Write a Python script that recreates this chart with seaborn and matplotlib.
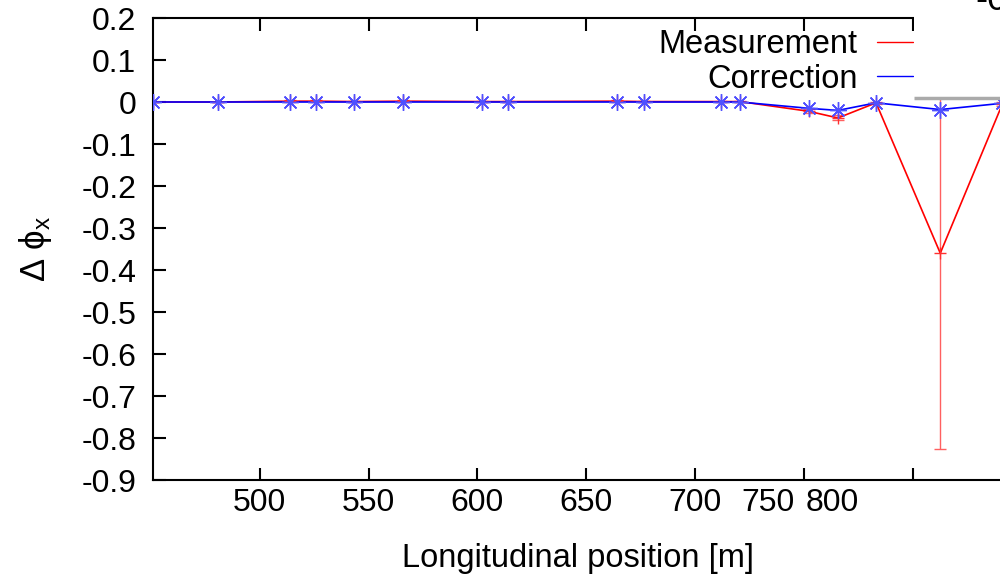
import numpy as np
import pandas as pd
import matplotlib
matplotlib.use("Agg")
import matplotlib.pyplot as plt
import matplotlib.transforms as mtransforms
from matplotlib.patches import Rectangle
from matplotlib.lines import Line2D
import seaborn as sns

# ---- data ----
position = [451, 481, 514, 526, 543.5, 566, 602, 614, 664, 676.5, 712, 720.5,
            752, 765.5, 783, 812.5, 841]
measurement = [0.0, 0.0, 0.002, 0.002, 0.001, 0.002, 0.001, 0.001, 0.002, 0.001,
               0.001, 0.001, -0.022, -0.038, -0.002, -0.36, -0.005]
measurement_err = [0.001, 0.001, 0.002, 0.002, 0.002, 0.002, 0.002, 0.002, 0.002,
                   0.002, 0.002, 0.002, 0.005, 0.006, 0.003, 0.466, 0.005]
correction = [0.0, 0.0, 0.0, 0.0, 0.0, 0.0, 0.0, 0.0, 0.0, 0.0, 0.0, 0.0,
              -0.015, -0.02, -0.002, -0.018, -0.003]
xticks = [500, 550, 600, 650, 700, 750, 800]
yticks = [0.2, 0.1, 0, -0.1, -0.2, -0.3, -0.4, -0.5, -0.6, -0.7, -0.8, -0.9]
ytick_labels = ["0.2", "0.1", "0", "-0.1", "-0.2", "-0.3", "-0.4", "-0.5",
                "-0.6", "-0.7", "-0.8", "-0.9"]
series_names = ["Measurement", "Correction"]

df = pd.DataFrame({"pos": position * 2,
                   "val": measurement + correction,
                   "series": [series_names[0]] * len(position) + [series_names[1]] * len(position)})

sns.set_style("ticks")
plt.rcParams["font.family"] = ["Liberation Sans", "DejaVu Sans"]
plt.rcParams["mathtext.fontset"] = "custom"
plt.rcParams["mathtext.rm"] = "Liberation Sans"
plt.rcParams["mathtext.it"] = "Liberation Sans"
plt.rcParams["text.color"] = "black"
plt.rcParams["axes.labelcolor"] = "black"

FS = 23
fig = plt.figure(figsize=(10, 5.77), dpi=100)
ax = fig.add_axes([0.153, 1 - 480 / 577, 1.003 - 0.153, (480 - 18) / 577])

red = "#ff0000"
blue = "#0000ff"

# measurement error bars
ax.errorbar(position, measurement, yerr=measurement_err, fmt="none",
            ecolor="#ff6060", elinewidth=1.0, capsize=4, capthick=1.0, zorder=2)

sns.lineplot(data=df, x="pos", y="val", hue="series",
             palette={series_names[0]: red, series_names[1]: blue},
             linewidth=1.2, legend=False, ax=ax, sort=False, zorder=3)

# markers
ax.plot(position, measurement, linestyle="none", marker="+", markersize=9,
        markeredgewidth=1.0, color="#ff3030", zorder=3)
ax.plot(position, correction, linestyle="none", marker=(8, 2, 0), markersize=12,
        markeredgewidth=1.0, color="#5050ff", zorder=4)

ax.set_xlim(451, 841.3)
ax.set_ylim(-0.9, 0.2)
ax.set_xticks(xticks)
ax.set_xticklabels([str(t) for t in xticks])
ax.set_yticks(yticks)
ax.set_yticklabels(ytick_labels)

for side in ["left", "bottom", "top", "right"]:
    ax.spines[side].set_linewidth(1.5)
    ax.spines[side].set_color("black")
ax.spines["right"].set_visible(False)
ax.spines["top"].set_bounds(451, 800)

ax.tick_params(axis="both", direction="in", length=9, width=1.5, labelsize=FS,
               colors="black", labelcolor="black")
ax.tick_params(axis="x", top=True, pad=6)
ax.tick_params(axis="y", right=False, pad=12)

# shift the last two x tick labels as in the reference
offsets = {750: -36, 800: -81}
for t, lab in zip(ax.get_xticks(), ax.get_xticklabels()):
    if int(round(t)) in offsets:
        lab.set_transform(lab.get_transform() +
                          mtransforms.ScaledTranslation(offsets[int(round(t))] / 100, 0,
                                                        fig.dpi_scale_trans))

ax.set_xlabel("Longitudinal position [m]", fontsize=23.5, labelpad=18)
ax.set_ylabel(r"$\Delta\ \phi_\mathrm{x}$", fontsize=25, labelpad=20)

# overlapping panel corner (white area with grey lower border) from the reference
ax.add_patch(Rectangle((800.6, 0.0095), 100, 1.0, facecolor="white",
                       edgecolor="none", linewidth=0, zorder=6, clip_on=False))
ax.hlines(0.0095, 800.6, 841.3, color="#aaaaaa", linewidth=2.5, zorder=7)
ax.text(0.975, 1 - 10 / 577, "-0.1", fontsize=26, va="baseline", ha="left",
        transform=fig.transFigure, zorder=10)

# legend in gnuplot style (text then sample line)
handles = [Line2D([], [], color=red, linewidth=1.0),
           Line2D([], [], color=blue, linewidth=1.0)]
ax.legend(handles, series_names, loc="upper right", frameon=False,
          markerfirst=False, fontsize=23.5, handlelength=1.1, handletextpad=0.6,
          labelspacing=0.12, borderpad=0, borderaxespad=0,
          bbox_to_anchor=(913 / 1000, 1 - 29 / 577), bbox_transform=fig.transFigure)

fig.savefig("out.png", dpi=100)
